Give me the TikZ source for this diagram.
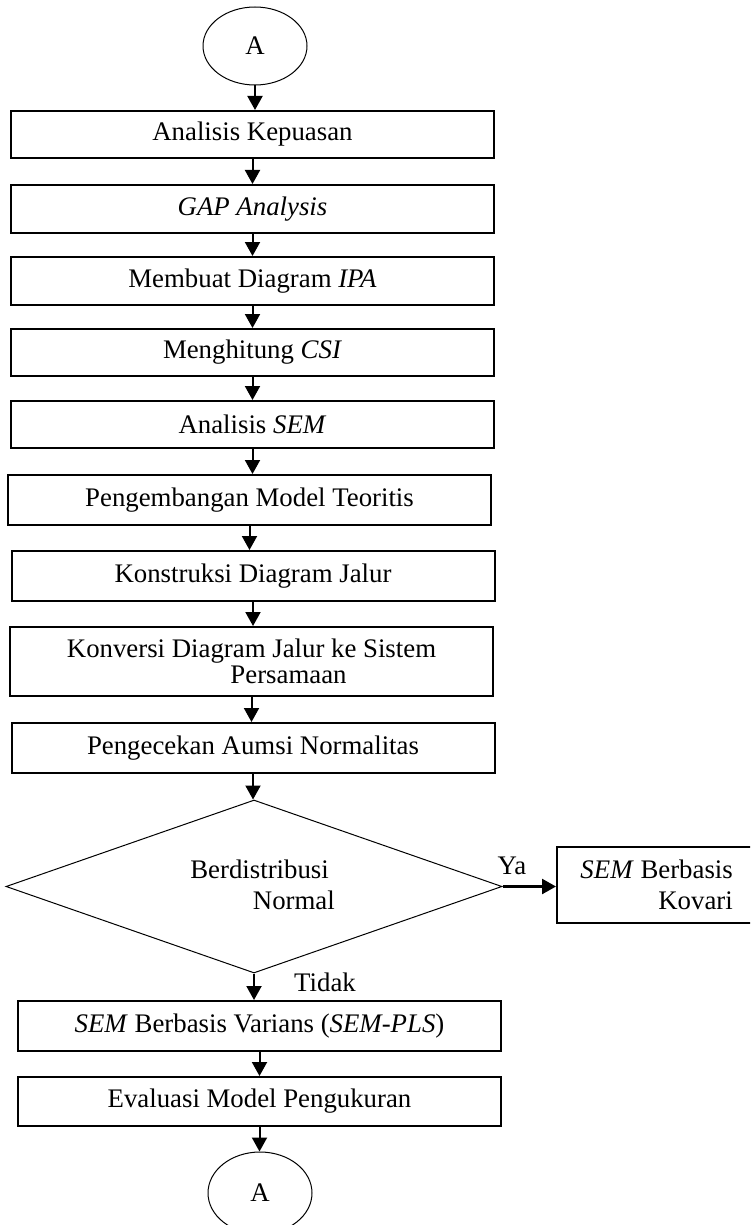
\documentclass[tikz,border=0pt]{standalone}
\usepackage{fontspec}
\setmainfont{Liberation Serif}
\usetikzlibrary{shapes.geometric,arrows.meta}
\begin{document}
\begin{tikzpicture}[x=1pt,y=-1pt,
  txt/.style={font=\fontsize{26.8}{31}\selectfont, inner sep=0pt},
  stepbox/.style={txt, draw, line width=2pt, minimum width=483pt, minimum height=48pt, align=center},
  conn/.style={txt, draw, ellipse, line width=1pt, minimum width=104pt, minimum height=78pt},
  decision/.style={draw, diamond, line width=1pt, inner sep=0pt, minimum width=496pt, minimum height=173pt},
  arr/.style={line width=2pt, -{Triangle[length=14pt,width=15pt]}},
]
\clip (0,0) rectangle (750,1225);

% off-page connector at the top
\node[conn] (ta) at (255,46) {A};

% main sequence of steps
\node[stepbox, minimum height=47pt] (b1) at (252.5,134.5) {Analisis Kepuasan};
\node[stepbox] (b2) at (252.5,209) {\textit{GAP Analysis}};
\node[stepbox] (b3) at (252.5,281) {Membuat Diagram \textit{IPA}};
\node[stepbox, minimum height=47pt] (b4) at (252.5,352.5) {Menghitung \textit{CSI}};
\node[stepbox, minimum height=47pt] (b5) at (252.5,424.5) {Analisis \textit{SEM}};
\node[stepbox, minimum height=50pt] (b6) at (249.5,500) {Pengembangan Model Teoritis};
\node[stepbox, minimum height=50pt] (b7) at (253,576) {Konstruksi Diagram Jalur};
\node[stepbox, minimum height=69pt] (b8) at (251.5,661.5)
  {Konversi Diagram Jalur ke Sistem\\[-5pt]\hspace*{74pt}Persamaan};
\node[stepbox, minimum height=50pt] (b9) at (253,748) {Pengecekan Aumsi Normalitas};

% normality decision
\node[decision] (dia) at (254,886.5) {};
\node[txt, align=right, anchor=east] (dtext) at (335,885)
  {Berdistribusi\hspace*{6pt}\\Normal};

% covariance-based branch
\node[draw, line width=2pt, minimum width=243pt, minimum height=76pt, inner sep=0pt] (kov) at (678.5,885) {};
\node[txt, align=right, anchor=east] (kovtext) at (733,885) {\textit{SEM} Berbasis\\Kovari};
\node[txt] (ya) at (512,866) {Ya};

% variance-based branch
\node[txt] (tidak) at (325,982) {Tidak};
\node[stepbox, minimum height=50pt] (b10) at (259.5,1026)
  {\textit{SEM} Berbasis Varians (\textit{SEM-PLS})};
\node[stepbox, minimum height=49pt] (b11) at (259.5,1101.5) {Evaluasi Model Pengukuran};

% off-page connector at the bottom
\node[conn, minimum height=82pt] (ba) at (260,1193) {A};

% connectors
\draw[arr] (ta.south) -- (ta.south |- b1.north);
\foreach \a/\b in {b1/b2,b2/b3,b3/b4,b4/b5,b5/b6,b6/b7,b7/b8,b8/b9}
  \draw[arr] (\a.south) -- (\a.south |- \b.north);
\draw[arr] (b9.south) -- (b9.south |- dia.north);
\draw[arr, line width=2.5pt] (dia.east) -- (dia.east -| kov.west);
\draw[arr] (dia.south) -- (dia.south |- b10.north);
\draw[arr] (b10.south) -- (b10.south |- b11.north);
\draw[arr] (b11.south) -- (b11.south |- ba.north);
\end{tikzpicture}
\end{document}
